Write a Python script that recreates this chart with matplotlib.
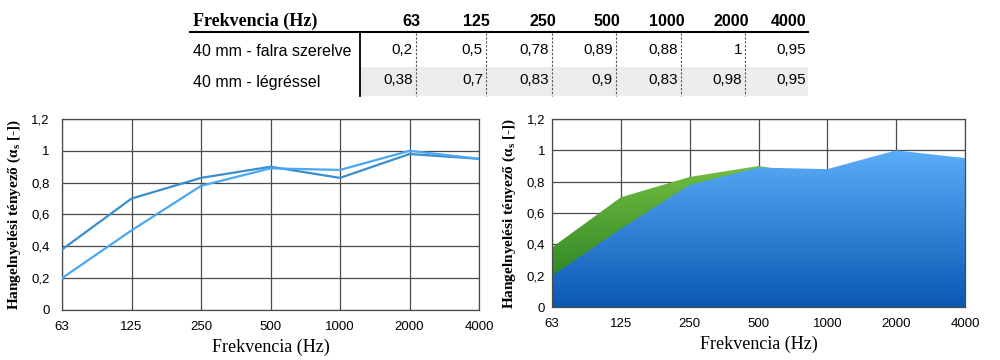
import numpy as np
import matplotlib
matplotlib.use("Agg")
import matplotlib.pyplot as plt
from matplotlib.lines import Line2D
from matplotlib.patches import Rectangle
from matplotlib.colors import LinearSegmentedColormap

plt.rcParams['mathtext.fontset'] = 'custom'
plt.rcParams['mathtext.rm'] = 'Liberation Serif'

# ---- data ----
freq_labels = ["63", "125", "250", "500", "1000", "2000", "4000"]
series_names = ["40 mm - falra szerelve", "40 mm - légréssel"]
falra = [0.2, 0.5, 0.78, 0.89, 0.88, 1.0, 0.95]
legres = [0.38, 0.7, 0.83, 0.9, 0.83, 0.98, 0.95]
yticks = [0, 0.2, 0.4, 0.6, 0.8, 1.0, 1.2]
table_header = "Frekvencia (Hz)"
xlabel = "Frekvencia (Hz)"
ylabel = "Hangelnyelési tényező (α$_\\mathregular{s}$ [-])"

def fmt(v):
    s = ("%g" % v).replace(".", ",")
    return s

W, H = 1000, 360
fig = plt.figure(figsize=(10, 3.6), dpi=100)

def fx(px):
    return px / W

def fy(py):
    return 1 - py / H

# ---- table ----
col_right = [416, 486, 552, 616, 681, 745, 806]
sans = "Liberation Sans"
serif = "Liberation Serif"
fig.text(fx(193), fy(21), table_header, family=serif, weight="bold", fontsize=13,
         ha="left", va="center")
for i, lab in enumerate(freq_labels):
    fig.text(fx(col_right[i] + 4 if i < 6 else col_right[i]), fy(21), lab, family=sans,
             weight="bold", fontsize=11.5, ha="right", va="center")
# header rule
fig.add_artist(Line2D([fx(190), fx(808)], [fy(32), fy(32)], color="black", lw=1.5))
# grey band for row 2
fig.add_artist(Rectangle((fx(360), fy(96)), fx(808) - fx(360), fy(67) - fy(96),
                         facecolor="#ececec", edgecolor="none", zorder=0))
row_y = [52, 82]
for r, (name, vals) in enumerate(zip(series_names, [falra, legres])):
    fig.text(fx(193), fy(row_y[r]), name, family=sans, fontsize=11.5, ha="left", va="center")
    for i, v in enumerate(vals):
        fig.text(fx(col_right[i] - 3 if i < 6 else col_right[i]), fy(row_y[r] - 2), fmt(v),
                 family=sans, fontsize=11, ha="right", va="center")
# vertical separator
fig.add_artist(Line2D([fx(360), fx(360)], [fy(32), fy(96)], color="black", lw=1.3))
for i in range(6):
    fig.add_artist(Line2D([fx(col_right[i]), fx(col_right[i])], [fy(33), fy(96)],
                          color="#555555", lw=0.8, ls=(0, (2, 1.5))))

# ---- charts ----
x = np.arange(len(freq_labels))
ax1 = fig.add_axes([fx(62), fy(310), fx(479) - fx(62), fy(119) - fy(310)])
ax2 = fig.add_axes([fx(552), fy(307), fx(965) - fx(552), fy(119) - fy(307)])

for ax in (ax1, ax2):
    ax.set_xlim(0, len(freq_labels) - 1)
    ax.set_ylim(0, 1.2)
    ax.set_xticks(x)
    ax.set_xticklabels(freq_labels, family=sans, fontsize=9.5)
    ax.set_yticks(yticks)
    ax.set_yticklabels([fmt(t) if t != 0 else "0" for t in yticks], family=sans, fontsize=9.5)
    ax.tick_params(length=0)
    ax.tick_params(axis="x", pad=8)
    ax.grid(True, color="#4a4a4a", lw=0.9)
    ax.set_axisbelow(True)
    for s in ax.spines.values():
        s.set_color("#4a4a4a")
        s.set_linewidth(0.9)
    ax.set_xlabel(xlabel, family=serif, fontsize=13, labelpad=4)
    ax.set_ylabel(ylabel, family=serif, weight="bold", fontsize=11, labelpad=6)
    ax.set_facecolor("white")

ax1.tick_params(axis="y", pad=9)
ax2.tick_params(axis="y", pad=5)

ax1.plot(x, legres, color="#3b8dcc", lw=1.6, zorder=3)
ax1.plot(x, falra, color="#4aa7f2", lw=1.6, zorder=3)

# gradient fills
green_cmap = LinearSegmentedColormap.from_list("g", ["#1f7a1f", "#7cc444"])
blue_cmap = LinearSegmentedColormap.from_list("b", ["#0a58b2", "#5badf9"])
grad = np.linspace(0, 1, 256).reshape(-1, 1)

pg = ax2.fill_between(x, 0, legres, facecolor="none", edgecolor="none", zorder=2)
img_g = ax2.imshow(grad, cmap=green_cmap, origin="lower", aspect="auto",
                   extent=[0, 6, 0, 1.0], zorder=2)
img_g.set_clip_path(pg.get_paths()[0], transform=ax2.transData)

pb = ax2.fill_between(x, 0, falra, facecolor="none", edgecolor="none", zorder=3)
img_b = ax2.imshow(grad, cmap=blue_cmap, origin="lower", aspect="auto",
                   extent=[0, 6, 0, 1.0], zorder=3)
img_b.set_clip_path(pb.get_paths()[0], transform=ax2.transData)
ax2.set_xlim(0, 6)
ax2.set_ylim(0, 1.2)
for s in ax2.spines.values():
    s.set_zorder(4)

fig.savefig("out.png", dpi=100)
